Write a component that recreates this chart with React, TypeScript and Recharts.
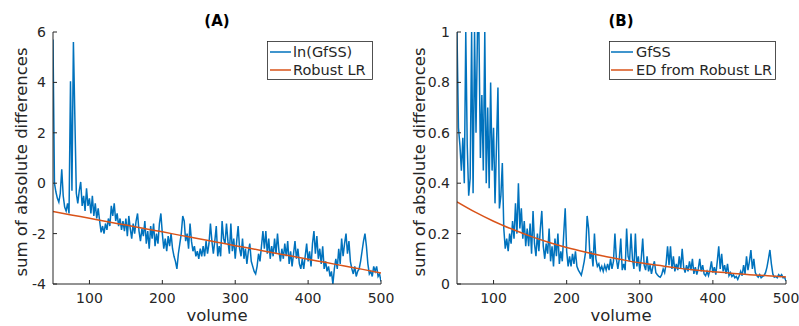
import React from 'react';
import { LineChart, Line, XAxis, YAxis } from 'recharts';

// volume runs 50..500 in steps of 2
const VOLUME_START = 50;
const VOLUME_STEP = 2;

const lnGfSS = [
  5.7, 0.0, -0.35, -0.6, -0.75, -0.4, 0.55, -0.5, -0.95, -1.1,
  -0.8, -1.2, 4.05, -0.3, 5.6, 2.6, -0.4, -0.8, -0.3, 0.05,
  -0.9, -0.5, -1.1, -0.2, -0.9, -0.6, -1.2, -0.5, -1.3, -0.8,
  -1.4, -1.0, -1.5, -1.95, -1.7, -2.0, -1.6, -1.85, -1.4, -1.7,
  -0.9, -1.3, -0.8, -1.5, -1.2, -1.7, -1.4, -1.85, -1.5, -1.9,
  -1.4, -2.1, -1.3, -1.8, -2.2, -1.6, -2.0, -1.5, -1.2, -1.9,
  -2.3, -1.8, -2.1, -1.5, -2.4, -1.9, -2.6, -1.7, -2.2, -1.6,
  -2.5, -2.0, -2.4, -1.6, -1.2, -2.0, -2.6, -2.2, -2.7, -2.1,
  -2.5, -2.0, -2.6, -2.9, -3.1, -3.4, -2.8, -2.4, -2.0, -1.3,
  -1.5, -2.3, -2.0, -2.6, -1.6, -2.3, -2.7, -2.5, -2.9, -2.7,
  -3.0, -2.6, -2.9, -2.5, -2.9, -2.3, -2.8, -2.4, -1.6, -2.3,
  -2.8, -2.3, -1.7, -2.9, -2.5, -2.9, -1.5, -2.2, -2.4, -1.6,
  -2.3, -2.8, -1.6, -2.7, -2.2, -3.0, -2.3, -1.7, -2.6, -2.9,
  -2.2, -3.0, -2.6, -3.2, -2.7, -2.4, -3.1, -3.3, -3.5, -3.6,
  -3.3, -2.8, -3.1, -2.5, -1.9, -2.6, -1.9, -2.8, -2.2, -3.0,
  -2.5, -2.9, -2.2, -2.8, -2.0, -2.7, -3.1, -2.6, -3.0, -2.4,
  -2.9, -2.3, -3.2, -2.7, -3.3, -2.8, -2.3, -3.0, -2.6, -3.2,
  -3.4, -3.0, -3.4, -2.9, -2.4, -3.1, -2.7, -3.3, -2.4, -1.9,
  -2.8, -2.1, -3.0, -2.6, -3.2, -2.5, -3.4, -3.1, -3.5, -3.3,
  -3.7, -3.5, -4.0, -3.4, -3.0, -3.4, -2.6, -3.2, -2.2, -2.9,
  -2.4, -2.0, -2.8, -2.3, -3.1, -3.4, -3.6, -3.3, -3.7, -3.5,
  -3.4, -3.1, -2.7, -2.3, -2.0, -2.5, -3.2, -3.6, -3.5, -3.7,
  -3.3, -3.5, -3.3, -3.7, -3.6, -3.9,
];

const gfSS = [
  1.0, 0.62, 0.55, 0.45, 0.58, 0.4, 1.0, 0.55, 0.35, 0.42,
  1.0, 0.36, 1.0, 0.6, 1.0, 1.0, 0.5, 0.75, 0.45, 1.0,
  0.4, 0.7, 0.38, 0.8, 0.45, 0.62, 0.32, 0.55, 0.78, 0.3,
  0.35, 0.48, 0.22, 0.14, 0.18, 0.13, 0.2, 0.16, 0.25, 0.18,
  0.32, 0.2, 0.4, 0.22, 0.3, 0.18, 0.25, 0.15, 0.22, 0.15,
  0.24, 0.12, 0.29, 0.16, 0.11, 0.2, 0.13, 0.22, 0.29, 0.15,
  0.1, 0.16, 0.12, 0.22, 0.09, 0.15, 0.07, 0.18, 0.11, 0.2,
  0.08, 0.13, 0.09, 0.2, 0.3, 0.13, 0.07, 0.11, 0.07, 0.12,
  0.08, 0.13, 0.07, 0.055, 0.045, 0.035, 0.06, 0.09, 0.13, 0.27,
  0.22, 0.1, 0.13, 0.07, 0.2, 0.1, 0.07, 0.08, 0.055, 0.07,
  0.05, 0.075, 0.055, 0.08, 0.055, 0.1, 0.06, 0.09, 0.2, 0.1,
  0.06, 0.1, 0.18, 0.055, 0.08, 0.055, 0.22, 0.11, 0.09, 0.2,
  0.1, 0.06, 0.2, 0.07, 0.11, 0.05, 0.1, 0.18, 0.075, 0.055,
  0.11, 0.05, 0.075, 0.04, 0.07, 0.09, 0.045, 0.037, 0.03, 0.027,
  0.037, 0.06, 0.045, 0.08, 0.15, 0.075, 0.15, 0.06, 0.11, 0.05,
  0.08, 0.055, 0.11, 0.06, 0.14, 0.067, 0.045, 0.075, 0.05, 0.09,
  0.055, 0.1, 0.04, 0.067, 0.037, 0.06, 0.1, 0.05, 0.075, 0.04,
  0.033, 0.05, 0.033, 0.055, 0.09, 0.045, 0.067, 0.037, 0.09, 0.15,
  0.06, 0.12, 0.05, 0.075, 0.04, 0.08, 0.033, 0.045, 0.03, 0.037,
  0.025, 0.03, 0.018, 0.033, 0.05, 0.033, 0.075, 0.04, 0.11, 0.055,
  0.09, 0.135, 0.06, 0.1, 0.045, 0.033, 0.027, 0.037, 0.025, 0.03,
  0.033, 0.045, 0.067, 0.1, 0.135, 0.08, 0.04, 0.027, 0.03, 0.025,
  0.037, 0.03, 0.037, 0.025, 0.027, 0.012,
];

const fitVolumes = [50, 75, 100, 125, 150, 175, 200, 225, 250, 275, 300, 325, 350, 375, 400, 425, 450, 475, 500];
const robustLR = [-1.12, -1.26, -1.39, -1.53, -1.66, -1.8, -1.93, -2.07, -2.2, -2.34, -2.48, -2.61, -2.75, -2.88, -3.02, -3.15, -3.29, -3.42, -3.56];
const edFromRobustLR = [0.326, 0.285, 0.249, 0.218, 0.19, 0.166, 0.145, 0.127, 0.111, 0.097, 0.084, 0.074, 0.064, 0.056, 0.049, 0.043, 0.037, 0.033, 0.028];

const xTicks = [100, 200, 300, 400, 500];
const yTicksA = [-4, -2, 0, 2, 4, 6];
const yTicksB = [0, 0.2, 0.4, 0.6, 0.8, 1];

const toSeries = (vals: number[]) => vals.map((y, i) => ({ v: VOLUME_START + i * VOLUME_STEP, y }));
const toFit = (vals: number[]) => vals.map((y, i) => ({ v: fitVolumes[i], y }));

const dataA = toSeries(lnGfSS);
const dataB = toSeries(gfSS);
const fitA = toFit(robustLR);
const fitB = toFit(edFromRobustLR);

const BLUE = '#0072BD';
const RED = '#D95319';
const AX = '#262626';
const FONT = 'DejaVu Sans';

const tickStyle = { fill: AX, fontSize: 14, fontFamily: FONT };

function Panel({ data, fit, yDomain, yTicks, margin, width }: any) {
  return (
    <LineChart width={width} height={326} margin={margin}>
      <XAxis
        type="number"
        dataKey="v"
        domain={[50, 500]}
        ticks={xTicks}
        allowDataOverflow
        height={30}
        stroke={AX}
        tick={tickStyle}
        tickSize={-4}
        tickMargin={13}
      />
      <YAxis
        type="number"
        dataKey="y"
        domain={yDomain}
        ticks={yTicks}
        allowDataOverflow
        width={40}
        stroke={AX}
        tick={tickStyle}
        tickSize={-4}
        tickMargin={11}
      />
      <Line data={data} dataKey="y" type="linear" dot={false} stroke={BLUE} strokeWidth={1.5} isAnimationActive={false} />
      <Line data={fit} dataKey="y" type="monotone" dot={false} stroke={RED} strokeWidth={1.5} isAnimationActive={false} />
    </LineChart>
  );
}

export default function App() {
  return (
    <div style={{ position: 'fixed', left: 0, top: 0, width: 799, height: 326, background: '#fff', fontFamily: FONT }}>
      <div style={{ position: 'absolute', left: 0, top: 0 }}>
        <Panel data={dataA} fit={fitA} yDomain={[-4, 6]} yTicks={yTicksA} width={400}
          margin={{ top: 32, right: 19, bottom: 12, left: 13 }} />
      </div>
      <div style={{ position: 'absolute', left: 400, top: 0 }}>
        <Panel data={dataB} fit={fitB} yDomain={[0, 1]} yTicks={yTicksB} width={399}
          margin={{ top: 32, right: 13, bottom: 12, left: 17 }} />
      </div>
      <svg width={799} height={326} style={{ position: 'absolute', left: 0, top: 0, pointerEvents: 'none' }}>
        <g fontFamily={FONT}>
          <text x={217} y={26} textAnchor="middle" fontSize={15} fontWeight="bold" fill="#000">(A)</text>
          <text x={621} y={26} textAnchor="middle" fontSize={15} fontWeight="bold" fill="#000">(B)</text>
          <text x={27} y={162} transform="rotate(-90, 27, 162)" textAnchor="middle" fontSize={16.5} fill={AX}>sum of absolute differences</text>
          <text x={425} y={162} transform="rotate(-90, 425, 162)" textAnchor="middle" fontSize={16.5} fill={AX}>sum of absolute differences</text>
          <text x={217} y={321} textAnchor="middle" fontSize={16.5} fill={AX}>volume</text>
          <text x={621} y={321} textAnchor="middle" fontSize={16.5} fill={AX}>volume</text>

          <rect x={267.5} y={41.5} width={105} height={38} fill="#fff" stroke={AX} strokeWidth={0.8} />
          <line x1={270} x2={291} y1={52} y2={52} stroke={BLUE} strokeWidth={1.5} />
          <line x1={270} x2={291} y1={70} y2={70} stroke={RED} strokeWidth={1.5} />
          <text x={293} y={57} fontSize={14.5} fill={AX}>ln(GfSS)</text>
          <text x={293} y={75} fontSize={14.5} fill={AX}>Robust LR</text>

          <rect x={609.5} y={41.5} width={166} height={38} fill="#fff" stroke={AX} strokeWidth={0.8} />
          <line x1={611} x2={633} y1={52} y2={52} stroke={BLUE} strokeWidth={1.5} />
          <line x1={611} x2={633} y1={70} y2={70} stroke={RED} strokeWidth={1.5} />
          <text x={636} y={57} fontSize={14.5} fill={AX}>GfSS</text>
          <text x={636} y={75} fontSize={14.5} fill={AX}>ED from Robust LR</text>
        </g>
      </svg>
    </div>
  );
}
